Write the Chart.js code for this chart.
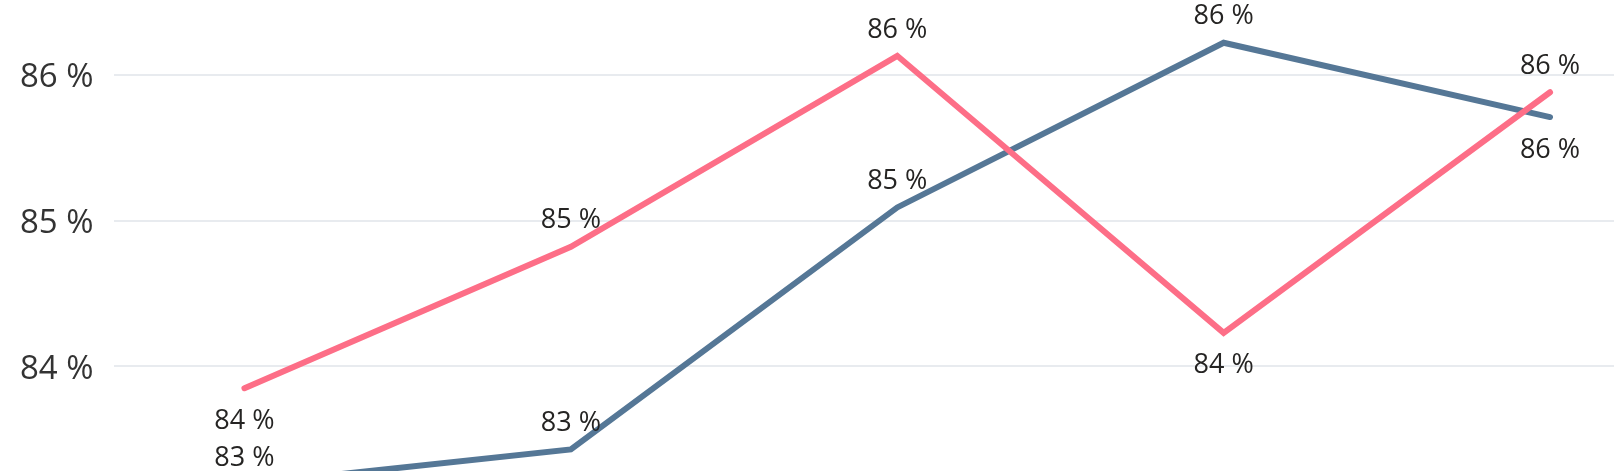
<!DOCTYPE html>
<html>
<head>
<meta charset="utf-8">
<script src="https://cdn.jsdelivr.net/npm/chart.js@4/dist/chart.umd.min.js"></script>
<style>
    html, body { margin: 0; padding: 0; background: #fff; overflow: hidden; }
    #wrap { width: 1614px; height: 471px; position: relative; }
</style>
</head>
<body>
<div id="wrap"><canvas id="grafica"></canvas></div>
<script>
// Datos
const categorias = ['1', '2', '3', '4', '5'];
const serieRosa = [83.85, 84.82, 86.13, 84.23, 85.88];
const serieAzul = [83.19, 83.43, 85.09, 86.22, 85.71];
const ticksY = [84, 85, 86];

// Posición de las etiquetas: arriba o abajo del punto
const posRosa = ['abajo', 'arriba', 'arriba', 'abajo', 'arriba'];
const posAzul = ['arriba', 'arriba', 'arriba', 'arriba', 'abajo'];

const FUENTE = "'Open Sans', 'Noto Sans', sans-serif";

function puntos(serie) {
    return serie.map((v, i) => ({ x: i, y: v }));
}

// Etiquetas de valor sobre los puntos
const etiquetas = {
    id: 'etiquetas',
    afterDatasetsDraw(chart) {
        const ctx = chart.ctx;
        ctx.save();
        ctx.font = '27px ' + FUENTE;
        ctx.fillStyle = '#252423';
        ctx.textAlign = 'center';
        ctx.textBaseline = 'middle';
        chart.data.datasets.forEach((ds, d) => {
            const meta = chart.getDatasetMeta(d);
            meta.data.forEach((p, i) => {
                const dy = ds.posiciones[i] === 'arriba' ? -26 : 33;
                ctx.fillText(Math.round(ds.data[i].y) + ' %', p.x, p.y + dy);
            });
        });
        ctx.restore();
    }
};

const config = {
    type: 'line',
    data: {
        datasets: [{
            label: 'Rosa',
            data: puntos(serieRosa),
            posiciones: posRosa,
            borderColor: '#FD6E87',
            borderWidth: 6,
            borderCapStyle: 'round',
            pointRadius: 0,
            clip: false,
            tension: 0
        }, {
            label: 'Azul',
            data: puntos(serieAzul),
            posiciones: posAzul,
            borderColor: '#557796',
            borderWidth: 6,
            borderCapStyle: 'round',
            pointRadius: 0,
            clip: false,
            tension: 0
        }]
    },
    options: {
        responsive: true,
        maintainAspectRatio: false,
        animation: false,
        layout: { padding: { left: 0, right: 0, top: 0, bottom: 0 } },
        plugins: {
            legend: { display: false },
            tooltip: { enabled: false }
        },
        scales: {
            x: {
                type: 'linear',
                display: false,
                min: -0.401,
                max: 4.196
            },
            y: {
                min: 83.555,
                max: 86.24,
                border: { display: false },
                grid: { color: '#E8EBEF', lineWidth: 2, drawTicks: false },
                afterBuildTicks: (axis) => {
                    axis.ticks = ticksY.map(v => ({ value: v }));
                },
                ticks: {
                    padding: 20,
                    labelOffset: 3,
                    color: '#333333',
                    font: { family: FUENTE, size: 33 },
                    callback: (v) => v + ' %'
                }
            }
        }
    },
    plugins: [etiquetas]
};

const grafica = new Chart(document.getElementById('grafica'), config);
</script>
</body>
</html>
